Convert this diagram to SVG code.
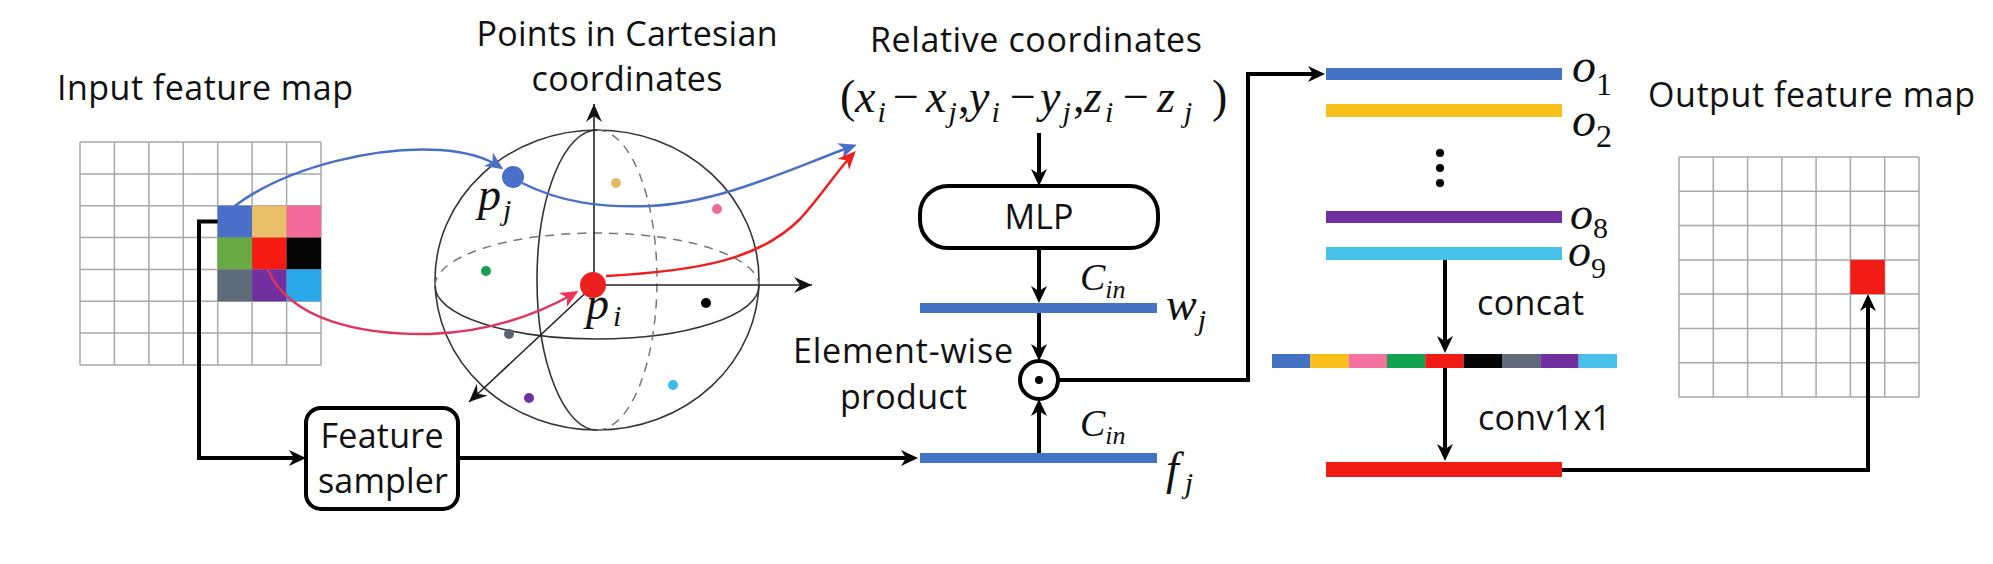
<svg xmlns="http://www.w3.org/2000/svg" width="1993" height="564" viewBox="0 0 1993 564">
<style>
.lbl{font-family:"Open Sans","Liberation Sans",sans-serif;font-size:34px;fill:#111}
.m{font-family:"Liberation Serif",serif;font-style:italic;fill:#111}
.mu{font-family:"Liberation Serif",serif;font-style:normal;fill:#111}
.grid{stroke:#A8A8A8;stroke-width:1.5;fill:none}
.conn{stroke:#000;stroke-width:4;fill:none;stroke-linejoin:miter}
.axis{stroke:#222;stroke-width:1.6;fill:none}
.sph{stroke:#333;stroke-width:1.6;fill:none}
.dash{stroke:#777;stroke-width:1.5;fill:none;stroke-dasharray:9 7}
.box{fill:#fff;stroke:#000;stroke-width:4}
</style>
<defs>
<marker id="ak" viewBox="-14 -10 20 20" refX="0" refY="0" markerWidth="20" markerHeight="20" orient="auto" markerUnits="userSpaceOnUse"><path d="M5,0 L-12,-8 L-7,0 L-12,8 Z" fill="#000"/></marker>
<marker id="ax" viewBox="-20 -10 22 20" refX="0" refY="0" markerWidth="22" markerHeight="20" orient="auto" markerUnits="userSpaceOnUse"><path d="M0,0 L-18,-8 L-12,0 L-18,8 Z" fill="#111"/></marker>
<marker id="ab" viewBox="-16 -9 22 18" refX="0" refY="0" markerWidth="22" markerHeight="18" orient="auto" markerUnits="userSpaceOnUse"><path d="M4,0 L-14,-8 L-9,0 L-14,8 Z" fill="#4A6FC7"/></marker>
<marker id="ar" viewBox="-16 -9 22 18" refX="0" refY="0" markerWidth="22" markerHeight="18" orient="auto" markerUnits="userSpaceOnUse"><path d="M4,0 L-14,-8 L-9,0 L-14,8 Z" fill="#EE1F1F"/></marker>
<marker id="ap" viewBox="-16 -9 22 18" refX="0" refY="0" markerWidth="22" markerHeight="18" orient="auto" markerUnits="userSpaceOnUse"><path d="M4,0 L-14,-8 L-9,0 L-14,8 Z" fill="#EE3358"/></marker>
</defs>

<!-- Input feature map -->
<g id="input-map">
<text class="lbl" x="57" y="100" textLength="296">Input feature map</text>
<path class="grid" d="M80,142V365M114.4,142V365M148.9,142V365M183.3,142V365M217.7,142V365M252.1,142V365M286.6,142V365M321,142V365M80,142H321M80,173.9H321M80,205.7H321M80,237.6H321M80,269.4H321M80,301.3H321M80,333.1H321M80,365H321"/>
<rect x="217.7" y="205.7" width="34.4" height="31.9" fill="#4A6FC8"/>
<rect x="252.1" y="205.7" width="34.5" height="31.9" fill="#E9BE68"/>
<rect x="286.6" y="205.7" width="34.4" height="31.9" fill="#F46A9B"/>
<rect x="217.7" y="237.6" width="34.4" height="31.8" fill="#6AAA45"/>
<rect x="252.1" y="237.6" width="34.5" height="31.8" fill="#F51A12"/>
<rect x="286.6" y="237.6" width="34.4" height="31.8" fill="#050505"/>
<rect x="217.7" y="269.4" width="34.4" height="31.9" fill="#5E6B7A"/>
<rect x="252.1" y="269.4" width="34.5" height="31.9" fill="#7030A0"/>
<rect x="286.6" y="269.4" width="34.4" height="31.9" fill="#2AA9EA"/>
</g>

<!-- Sphere -->
<g id="sphere">
<text class="lbl" x="627" y="46" text-anchor="middle" textLength="301">Points in Cartesian</text>
<text class="lbl" x="627" y="91" text-anchor="middle" textLength="191">coordinates</text>
<ellipse class="sph" cx="597" cy="280" rx="162" ry="150"/>
<path class="sph" d="M435,286 A162,53 0 0 0 759,286"/>
<path class="dash" d="M435,286 A162,53 0 0 1 759,286"/>
<path class="sph" d="M597,130 A60,150 0 0 0 597,430"/>
<path class="dash" d="M597,130 A60,150 0 0 1 597,430"/>
<path class="axis" d="M594,285 V104" marker-end="url(#ax)"/>
<path class="axis" d="M594,285 H812" marker-end="url(#ax)"/>
<path class="axis" d="M594,285 L469,402" marker-end="url(#ax)"/>
<circle cx="616" cy="183" r="5" fill="#E3BB62"/>
<circle cx="717" cy="209" r="5" fill="#F06A9A"/>
<circle cx="486" cy="271" r="5" fill="#12A150"/>
<circle cx="706" cy="303" r="5" fill="#000"/>
<circle cx="509" cy="334" r="5" fill="#5A6270"/>
<circle cx="529" cy="398" r="5" fill="#7030A0"/>
<circle cx="673" cy="385" r="5" fill="#3CBCE8"/>
</g>

<g id="pj">
<circle cx="513" cy="177" r="11" fill="#4A6FC7"/>
<text class="m" x="478" y="210" font-size="46">p<tspan dx="2" dy="10" font-size="30">j</tspan></text>
</g>
<g id="pi">
<circle cx="593" cy="285" r="13" fill="#EE1F1F"/>
<text class="m" x="586" y="319" font-size="46">p<tspan dx="4" dy="7" font-size="30">i</tspan></text>
</g>

<!-- Relative coordinates -->
<g id="relative-coords">
<text class="lbl" x="870" y="52" textLength="332">Relative coordinates</text>
<text class="mu" x="840" y="112" font-size="46">(</text>
<text class="m" x="855" y="112" font-size="46">x<tspan dx="2" dy="10" font-size="30">i</tspan></text>
<text class="mu" x="893" y="112" font-size="46">−</text>
<text class="m" x="926" y="112" font-size="46">x<tspan dx="2" dy="10" font-size="30">j</tspan></text>
<text class="mu" x="958" y="112" font-size="46">,</text>
<text class="m" x="969" y="112" font-size="46">y<tspan dx="2" dy="10" font-size="30">i</tspan></text>
<text class="mu" x="1010" y="112" font-size="46">−</text>
<text class="m" x="1040" y="112" font-size="46">y<tspan dx="2" dy="10" font-size="30">j</tspan></text>
<text class="mu" x="1073" y="112" font-size="46">,</text>
<text class="m" x="1084" y="112" font-size="46">z<tspan dx="3" dy="10" font-size="30">i</tspan></text>
<text class="mu" x="1123" y="112" font-size="46">−</text>
<text class="m" x="1157" y="112" font-size="46">z<tspan dx="9" dy="10" font-size="30">j</tspan></text>
<text class="mu" x="1212" y="112" font-size="46">)</text>
</g>

<g id="mlp">
<rect class="box" x="920" y="186" width="238" height="62" rx="28"/>
<text class="lbl" x="1039" y="229" text-anchor="middle" font-size="35">MLP</text>
</g>

<g id="wj">
<rect x="920" y="303" width="237" height="10" fill="#4472C4"/>
<text class="m" x="1080" y="290" font-size="38">C<tspan dx="0" dy="8" font-size="26">in</tspan></text>
<text class="m" x="1166" y="320" font-size="46">w<tspan dx="1" dy="10" font-size="30">j</tspan></text>
</g>

<g id="odot">
<circle cx="1039" cy="380" r="19" fill="#fff" stroke="#000" stroke-width="4"/>
<circle cx="1039" cy="380" r="4" fill="#000"/>
<text class="lbl" x="793" y="363" textLength="220">Element-wise</text>
<text class="lbl" x="840" y="409" textLength="127">product</text>
</g>

<g id="fj">
<rect x="920" y="453" width="237" height="10" fill="#4472C4"/>
<text class="m" x="1080" y="436" font-size="38">C<tspan dx="0" dy="8" font-size="26">in</tspan></text>
<text class="m" x="1166" y="484" font-size="46">f<tspan dx="6" dy="9" font-size="30">j</tspan></text>
</g>

<g id="feature-sampler">
<rect class="box" x="306" y="408" width="152" height="101" rx="15"/>
<text class="lbl" x="382" y="448" text-anchor="middle" textLength="123">Feature</text>
<text class="lbl" x="383" y="493" text-anchor="middle" textLength="130">sampler</text>
</g>

<!-- o vectors -->
<g id="o-vectors">
<rect x="1326" y="68" width="236" height="12" fill="#4472C4"/>
<rect x="1326" y="104" width="236" height="13" fill="#F9C01C"/>
<rect x="1326" y="211" width="236" height="12" fill="#7030A0"/>
<rect x="1326" y="247" width="236" height="13" fill="#47C0EA"/>
<circle cx="1440" cy="153" r="4" fill="#000"/>
<circle cx="1440" cy="168" r="4" fill="#000"/>
<circle cx="1440" cy="183" r="4" fill="#000"/>
<text class="m" x="1572" y="82" font-size="48">o<tspan class="mu" dx="0" dy="13" font-size="32">1</tspan></text>
<text class="m" x="1572" y="136" font-size="48">o<tspan class="mu" dx="0" dy="11" font-size="32">2</tspan></text>
<text class="m" x="1570" y="229" font-size="46">o<tspan class="mu" dx="0" dy="9" font-size="30">8</tspan></text>
<text class="m" x="1568" y="266" font-size="46">o<tspan class="mu" dx="0" dy="12" font-size="30">9</tspan></text>
</g>

<g id="concat">
<rect x="1272" y="354" width="38.4" height="14" fill="#4472C4"/>
<rect x="1310.3" y="354" width="38.4" height="14" fill="#F9C01C"/>
<rect x="1348.7" y="354" width="38.4" height="14" fill="#F472A0"/>
<rect x="1387" y="354" width="38.4" height="14" fill="#12A150"/>
<rect x="1425.3" y="354" width="38.4" height="14" fill="#F01B14"/>
<rect x="1463.7" y="354" width="38.4" height="14" fill="#050505"/>
<rect x="1502" y="354" width="38.4" height="14" fill="#5F6B78"/>
<rect x="1540.3" y="354" width="38.4" height="14" fill="#7030A0"/>
<rect x="1578.7" y="354" width="38.3" height="14" fill="#47C0EA"/>
<text class="lbl" x="1477" y="315" textLength="107">concat</text>
<text class="lbl" x="1478" y="430" textLength="133">conv1x1</text>
</g>

<g id="conv-out">
<rect x="1326" y="462" width="236" height="15" fill="#F01B14"/>
</g>

<g id="output-map">
<text class="lbl" x="1648" y="107" textLength="327">Output feature map</text>
<path class="grid" d="M1679,157V397M1713.3,157V397M1747.6,157V397M1781.9,157V397M1816.1,157V397M1850.4,157V397M1884.7,157V397M1919,157V397M1679,157H1919M1679,191.3H1919M1679,225.6H1919M1679,259.9H1919M1679,294.1H1919M1679,328.4H1919M1679,362.7H1919M1679,397H1919"/>
<rect x="1850.4" y="259.9" width="34.3" height="34.2" fill="#F01B14"/>
</g>

<!-- Connectors -->
<g id="connectors">
<path class="conn" d="M217.7,221.6 H199 V458 H301" marker-end="url(#ak)"/>
<path class="conn" d="M458,458 H913" marker-end="url(#ak)"/>
<path class="conn" d="M1039,133 V181" marker-end="url(#ak)"/>
<path class="conn" d="M1039,248 V298" marker-end="url(#ak)"/>
<path class="conn" d="M1039,313 V356" marker-end="url(#ak)"/>
<path class="conn" d="M1039,453 V404" marker-end="url(#ak)"/>
<path class="conn" d="M1058,380 H1248 V74 H1320" marker-end="url(#ak)"/>
<path class="conn" d="M1445,260 V348" marker-end="url(#ak)"/>
<path class="conn" d="M1445,368 V456" marker-end="url(#ak)"/>
<path class="conn" d="M1562,470 H1868 V299" marker-end="url(#ak)"/>
<path d="M235,205.7 C290,165 380,146 440,150 C470,152 488,159 500,167" fill="none" stroke="#4A6FC7" stroke-width="2.5" marker-end="url(#ab)"/>
<path d="M522,183 C560,202 600,208 650,206 C720,203 790,169 853,146" fill="none" stroke="#4A6FC7" stroke-width="2.5" marker-end="url(#ab)"/>
<path d="M268,270 C290,320 360,335 430,334 C490,332 540,313 575,293" fill="none" stroke="#E0355C" stroke-width="2.5" marker-end="url(#ap)"/>
<path d="M606,276 C700,271 760,259 800,219 C822,195 836,172 853,154" fill="none" stroke="#EE1F1F" stroke-width="2.5" marker-end="url(#ar)"/>
</g>
</svg>
